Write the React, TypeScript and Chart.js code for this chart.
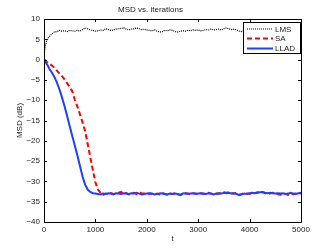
import React, { useEffect, useRef } from "react";
import { Chart, registerables } from "chart.js";

Chart.register(...registerables);

const chartTitle = "MSD vs. iterations";
const xLabel = "t";
const yLabel = "MSD (dB)";
const seriesNames = ["LMS", "SA", "LLAD"];
const xTickStep = 1000;
const yTickStep = 5;

const tValues = [
  0, 10, 25, 50, 75,
  100, 150, 200, 250, 300, 350, 400, 450, 500, 550,
  600, 650, 700, 750, 800, 850, 900, 950, 1000, 1050,
  1100, 1150, 1200, 1250, 1300, 1350, 1400, 1450, 1500, 1550,
  1600, 1650, 1700, 1750, 1800, 1850, 1900, 1950, 2000, 2050,
  2100, 2150, 2200, 2250, 2300, 2350, 2400, 2450, 2500, 2550,
  2600, 2650, 2700, 2750, 2800, 2850, 2900, 2950, 3000, 3050,
  3100, 3150, 3200, 3250, 3300, 3350, 3400, 3450, 3500, 3550,
  3600, 3650, 3700, 3750, 3800, 3850, 3900, 3950, 4000, 4050,
  4100, 4150, 4200, 4250, 4300, 4350, 4400, 4450, 4500, 4550,
  4600, 4650, 4700, 4750, 4800, 4850, 4900, 4950, 5000,
];

const lmsValues = [
  0, 2.0, 3.3, 4.6, 5.2,
  5.6, 6.3, 6.8, 6.9, 7.2, 7.0, 7.1, 6.9, 7.2, 7.1,
  7.0, 7.2, 7.0, 7.4, 7.8, 7.6, 7.3, 7.2, 7.0, 7.1,
  7.3, 7.2, 7.6, 7.4, 7.2, 7.3, 7.5, 7.6, 7.7, 7.8,
  7.5, 7.3, 7.5, 7.6, 7.8, 7.6, 7.4, 7.5, 7.3, 7.2,
  7.1, 7.3, 7.0, 6.8, 6.9, 7.2, 7.1, 7.3, 7.2, 6.9,
  6.8, 7.0, 7.1, 7.0, 7.2, 7.1, 7.3, 7.2, 7.3, 7.1,
  7.2, 7.4, 7.3, 7.5, 7.3, 7.4, 7.5, 7.3, 7.6, 7.8,
  7.6, 7.4, 7.5, 7.3, 7.0, 6.9, 7.1, 7.2, 7.4, 7.3,
  7.5, 7.3, 7.4, 7.2, 7.3, 7.5, 7.3, 7.1, 7.4, 7.2,
  7.5, 7.3, 7.4, 7.2, 7.3, 7.1, 7.4, 7.2, 7.3,
];

const saValues = [
  0, -0.1, -0.2, -0.5, -0.8,
  -1.0, -1.4, -2.0, -2.7, -3.4, -4.1, -4.9, -5.8, -6.8, -7.8,
  -9.9, -11.6, -13.5, -15.5, -17.6, -20.8, -24.0, -27.2, -30.2, -32.0,
  -32.8, -33.3, -33.0, -33.2, -32.9, -33.1, -33.0, -32.8, -32.6, -33.1,
  -32.9, -33.2, -33.0, -32.8, -33.1, -32.7, -32.9, -33.0, -33.2, -33.0,
  -33.1, -33.3, -33.0, -33.2, -32.9, -33.1, -33.3, -33.0, -33.1, -32.9,
  -33.2, -33.4, -33.1, -32.9, -33.0, -33.2, -32.9, -33.0, -33.1, -32.9,
  -33.1, -33.0, -32.8, -33.0, -33.2, -33.1, -33.0, -32.9, -32.7, -32.8,
  -32.6, -32.9, -33.0, -32.8, -33.3, -33.1, -32.9, -33.0, -33.1, -32.8,
  -32.9, -32.7, -32.8, -32.6, -32.9, -33.1, -33.0, -32.8, -32.9, -33.2,
  -33.3, -33.0, -33.1, -33.3, -32.9, -33.2, -33.0, -32.9, -33.0,
];

const lladValues = [
  0, -0.2, -0.5, -1.0, -1.5,
  -2.2, -3.1, -4.2, -5.6, -7.3, -9.3, -11.5, -13.9, -16.4, -18.8,
  -21.2, -23.6, -26.2, -28.8, -30.8, -32.0, -32.6, -32.9, -33.0, -33.1,
  -33.2, -33.0, -33.1, -32.9, -33.0, -33.2, -32.9, -33.0, -33.1, -32.9,
  -33.0, -33.1, -32.9, -33.0, -32.8, -33.0, -33.2, -33.1, -33.0, -32.9,
  -33.0, -33.2, -33.1, -33.0, -32.9, -33.1, -33.2, -33.0, -33.1, -33.0,
  -33.1, -33.3, -33.0, -32.9, -33.1, -33.0, -32.9, -33.1, -33.0, -32.9,
  -33.0, -33.1, -32.9, -33.0, -33.2, -33.0, -32.9, -33.0, -32.8, -32.9,
  -32.8, -33.0, -32.9, -33.1, -33.4, -33.2, -33.0, -33.1, -32.9, -32.8,
  -32.9, -32.8, -32.7, -32.6, -32.8, -32.9, -32.8, -32.9, -33.0, -32.9,
  -33.0, -32.9, -33.1, -33.0, -32.8, -33.0, -33.1, -32.9, -32.8,
];

const FONT = "'Liberation Sans', Arial, Helvetica, sans-serif";
const TEXT = "#222222";

const toPoints = (vals: number[]) => tValues.map((t, i) => ({ x: t, y: vals[i] }));

const boxPlugin = {
  id: "matlabBox",
  afterDraw(chart: any) {
    const { ctx, chartArea } = chart;
    const { left, right, top, bottom } = chartArea;
    const xs = chart.scales.x;
    const ys = chart.scales.y;
    ctx.save();
    ctx.strokeStyle = "#000";
    ctx.lineWidth = 1;
    ctx.setLineDash([]);
    ctx.beginPath();
    ctx.rect(Math.round(left) + 0.5, Math.round(top) + 0.5, Math.round(right - left), Math.round(bottom - top));
    ctx.stroke();
    const tl = 3;
    ctx.beginPath();
    xs.ticks.forEach((tk: any) => {
      const px = Math.round(xs.getPixelForValue(tk.value)) + 0.5;
      ctx.moveTo(px, bottom);
      ctx.lineTo(px, bottom - tl);
      ctx.moveTo(px, top);
      ctx.lineTo(px, top + tl);
    });
    ys.ticks.forEach((tk: any) => {
      const py = Math.round(ys.getPixelForValue(tk.value)) + 0.5;
      ctx.moveTo(left, py);
      ctx.lineTo(left + tl, py);
      ctx.moveTo(right, py);
      ctx.lineTo(right - tl, py);
    });
    ctx.stroke();

    // legend
    const lx = 243.5, ly = 22.5, lw = 57, lh = 31;
    ctx.fillStyle = "#fff";
    ctx.fillRect(lx, ly, lw, lh);
    ctx.strokeStyle = "#000";
    ctx.lineWidth = 1;
    ctx.strokeRect(lx, ly, lw, lh);
    const rows = [29, 38.5, 48.5];
    chart.data.datasets.forEach((ds: any, i: number) => {
      const y = rows[i];
      ctx.save();
      ctx.strokeStyle = ds.borderColor;
      ctx.lineWidth = ds.borderWidth;
      ctx.setLineDash(ds.borderDash || []);
      ctx.beginPath();
      ctx.moveTo(247, y);
      ctx.lineTo(273, y);
      ctx.stroke();
      ctx.restore();
      ctx.fillStyle = TEXT;
      ctx.font = `8px ${FONT}`;
      ctx.textBaseline = "middle";
      ctx.textAlign = "left";
      ctx.fillText(ds.label, 275, y + 0.5);
    });
    ctx.restore();
  },
};

export default function App() {
  const ref = useRef<HTMLCanvasElement | null>(null);
  useEffect(() => {
    if (!ref.current) return;
    const chart = new Chart(ref.current, {
      type: "line",
      data: {
        datasets: [
          {
            label: seriesNames[0],
            data: toPoints(lmsValues),
            borderColor: "#000000",
            borderWidth: 1.2,
            borderDash: [1, 1],
            pointRadius: 0,
            order: 3,
          },
          {
            label: seriesNames[1],
            data: toPoints(saValues),
            borderColor: "#ff0000",
            borderWidth: 2,
            borderDash: [5, 3],
            pointRadius: 0,
            order: 2,
          },
          {
            label: seriesNames[2],
            data: toPoints(lladValues),
            borderColor: "#1f3fff",
            borderWidth: 2,
            pointRadius: 0,
            order: 1,
          },
        ],
      },
      options: {
        animation: false,
        responsive: false,
        devicePixelRatio: 1,
        layout: { padding: { left: 0, right: 31, top: 0, bottom: 0 } },
        plugins: {
          legend: { display: false },
          tooltip: { enabled: false },
          title: {
            display: true,
            text: chartTitle,
            color: TEXT,
            font: { family: FONT, size: 8, weight: "normal" },
            padding: { top: 5, bottom: 4.4 },
          },
        },
        scales: {
          x: {
            type: "linear",
            min: 0,
            max: 5000,
            afterFit: (s: any) => { s.height = 28; },
            grid: { display: false, drawTicks: false },
            border: { display: false },
            ticks: {
              stepSize: xTickStep,
              padding: 3,
              color: TEXT,
              font: { family: FONT, size: 8 },
              maxRotation: 0,
              callback: (v: any) => String(v),
            },
            title: {
              display: true,
              text: xLabel,
              color: TEXT,
              font: { family: FONT, size: 8 },
              padding: { top: 0, bottom: 6 },
            },
          },
          y: {
            type: "linear",
            min: -40,
            max: 10,
            afterFit: (s: any) => { s.width = 44; },
            grid: { display: false, drawTicks: false },
            border: { display: false },
            ticks: {
              stepSize: yTickStep,
              padding: 4,
              color: TEXT,
              font: { family: FONT, size: 8 },
              callback: (v: any) => String(v).replace("-", "\u2212"),
            },
            title: {
              display: true,
              text: yLabel,
              color: TEXT,
              font: { family: FONT, size: 8 },
              padding: { top: 15, bottom: 0 },
            },
          },
        },
      },
      plugins: [boxPlugin],
    });
    return () => chart.destroy();
  }, []);
  return (
    <div style={{ position: "absolute", left: 0, top: 0, width: 332, height: 250, background: "#fff" }}>
      <canvas ref={ref} width={332} height={250} />
    </div>
  );
}
